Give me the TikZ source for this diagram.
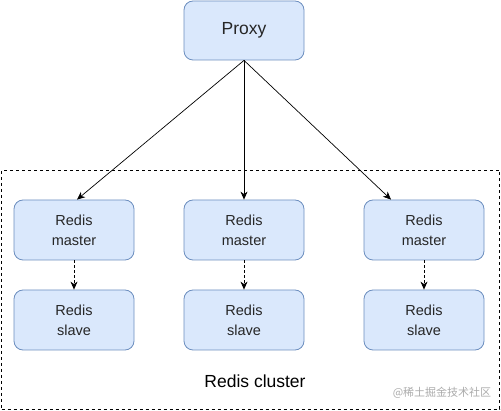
\documentclass[tikz,border=0pt]{standalone}
\usepackage{fontspec}
\setmainfont{Liberation Sans}
\newfontfamily\cjk{Noto Sans CJK SC}
\usetikzlibrary{arrows.meta,calc}
\definecolor{boxfill}{HTML}{DAE8FC}
\definecolor{boxline}{HTML}{6C8EBF}
\definecolor{wmgray}{HTML}{ABABAB}
\tikzset{
  redisbox/.style={draw=boxline, fill=boxfill, rounded corners=9pt, line width=0.8pt,
    minimum width=120pt, minimum height=60pt, inner sep=0pt, align=center,
    font=\fontsize{14.5}{20}\selectfont, text=black!85},
  proxybox/.style={redisbox, minimum height=59pt, font=\fontsize{17.5}{21}\selectfont},
  conn/.style={line width=0.7pt, -{Stealth[length=8pt,width=7pt,inset=2.5pt]}},
  dconn/.style={conn, dash pattern=on 3pt off 2pt},
  cluster/.style={draw=black, line width=0.7pt, dash pattern=on 3pt off 3pt},
}
\begin{document}
\begin{tikzpicture}[x=1pt,y=-1pt]
\useasboundingbox (0,0) rectangle (501,411);
\node[cluster, minimum width=498pt, minimum height=239pt, inner sep=0pt] (cl) at (250.5,289.5) {};
\node[proxybox] (p) at (244,30.5) {Proxy};
\node[redisbox] (m1) at (74,230) {Redis\\master};
\node[redisbox] (m2) at (244,230) {Redis\\master};
\node[redisbox] (m3) at (424,230) {Redis\\master};
\node[redisbox] (s1) at (74,320) {Redis\\slave};
\node[redisbox] (s2) at (244,320) {Redis\\slave};
\node[redisbox] (s3) at (424,320) {Redis\\slave};
\node[font=\fontsize{17.5}{21}\selectfont] (lbl) at (255,381) {Redis cluster};
\node[font=\cjk\fontsize{11}{13}\selectfont, text=wmgray] (wm) at (442,393) {@稀土掘金技术社区};
\draw[conn] (p.south) -- ($(m1.north)+(3,0)$);
\draw[conn] (p.south) -- (m2.north);
\draw[conn] (p.south) -- ($(m3.north)+(-33,0)$);
\draw[dconn] (m1.south) -- (s1.north);
\draw[dconn] (m2.south) -- (s2.north);
\draw[dconn] (m3.south) -- (s3.north);
\end{tikzpicture}
\end{document}
